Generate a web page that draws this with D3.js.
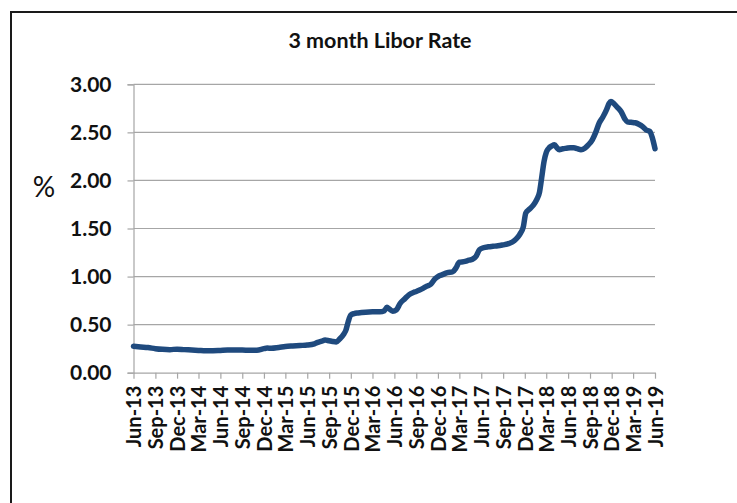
<!DOCTYPE html>
<html>
<head>
<meta charset="utf-8">
<script src="https://cdn.jsdelivr.net/npm/d3@7"></script>
<style>
  html, body { margin: 0; padding: 0; background: #fff; }
  svg { display: block; }
</style>
</head>
<body>
<svg id="chart" width="737" height="503"></svg>
<script>
// ---- data ----
const title = "3 month Libor Rate";
const yAxisLabel = "%";
const yTickValues = [0, 0.5, 1.0, 1.5, 2.0, 2.5, 3.0];
const xTickLabels = ["Jun-13","Sep-13","Dec-13","Mar-14","Jun-14","Sep-14","Dec-14","Mar-15","Jun-15","Sep-15","Dec-15","Mar-16","Jun-16","Sep-16","Dec-16","Mar-17","Jun-17","Sep-17","Dec-17","Mar-18","Jun-18","Sep-18","Dec-18","Mar-19","Jun-19"];
const dates = ["2013-06-01","2013-07-01","2013-08-01","2013-09-01","2013-10-01","2013-11-01","2013-12-01","2014-01-01","2014-02-01","2014-03-01","2014-04-01","2014-05-01","2014-06-01","2014-07-01","2014-08-01","2014-09-01","2014-10-01","2014-11-01","2014-12-01","2014-12-15","2015-01-01","2015-02-01","2015-03-01","2015-04-01","2015-05-01","2015-06-01","2015-07-01","2015-07-15","2015-08-01","2015-08-15","2015-09-01","2015-09-15","2015-10-01","2015-10-15","2015-11-01","2015-11-10","2015-11-20","2015-12-01","2015-12-15","2016-01-01","2016-02-01","2016-03-01","2016-04-01","2016-04-20","2016-05-01","2016-05-10","2016-05-25","2016-06-10","2016-06-25","2016-07-15","2016-08-01","2016-08-20","2016-09-01","2016-09-15","2016-10-01","2016-10-15","2016-11-01","2016-11-20","2016-12-01","2016-12-20","2017-01-10","2017-02-01","2017-02-15","2017-03-01","2017-03-20","2017-04-10","2017-04-25","2017-05-10","2017-05-25","2017-06-10","2017-07-01","2017-07-20","2017-08-10","2017-09-01","2017-09-20","2017-10-10","2017-10-25","2017-11-10","2017-11-25","2017-12-05","2017-12-20","2018-01-05","2018-01-20","2018-02-01","2018-02-10","2018-02-20","2018-03-01","2018-03-10","2018-03-25","2018-04-05","2018-04-15","2018-04-25","2018-05-10","2018-05-25","2018-06-10","2018-06-25","2018-07-10","2018-07-25","2018-08-10","2018-08-25","2018-09-10","2018-09-25","2018-10-10","2018-10-25","2018-11-10","2018-11-20","2018-11-28","2018-12-10","2018-12-25","2019-01-10","2019-01-25","2019-02-05","2019-02-20","2019-03-10","2019-03-25","2019-04-10","2019-04-25","2019-05-10","2019-05-20","2019-06-01"];
const rates = [0.275,0.268,0.262,0.250,0.243,0.240,0.245,0.240,0.236,0.232,0.228,0.229,0.232,0.235,0.235,0.235,0.233,0.234,0.250,0.256,0.255,0.263,0.272,0.278,0.283,0.287,0.300,0.315,0.328,0.340,0.332,0.325,0.320,0.350,0.400,0.440,0.530,0.600,0.615,0.622,0.630,0.633,0.633,0.645,0.680,0.665,0.640,0.655,0.720,0.770,0.810,0.835,0.845,0.860,0.880,0.900,0.920,0.980,1.000,1.020,1.040,1.050,1.090,1.150,1.155,1.170,1.180,1.210,1.280,1.300,1.310,1.315,1.320,1.330,1.340,1.360,1.390,1.440,1.520,1.660,1.700,1.740,1.800,1.880,2.030,2.200,2.290,2.330,2.360,2.370,2.340,2.320,2.330,2.335,2.340,2.340,2.330,2.320,2.335,2.370,2.420,2.500,2.600,2.660,2.740,2.800,2.820,2.800,2.760,2.715,2.640,2.610,2.605,2.600,2.585,2.560,2.525,2.510,2.450,2.330];

// ---- drawing ----
const parse = d3.timeParse("%Y-%m-%d");
const series = dates.map((d, i) => ({ date: parse(d), value: rates[i] }));
const tickDates = xTickLabels.map(s => d3.timeParse("%b-%y")(s));

const svg = d3.select("#chart");
const FONT = "Lato, 'Open Sans', sans-serif";

// outer chart border
svg.append("rect")
  .attr("x", 11).attr("y", 12)
  .attr("width", 760).attr("height", 520)
  .attr("fill", "none").attr("stroke", "#1a1a1a").attr("stroke-width", 2);

const x = d3.scaleTime()
  .domain([tickDates[0], tickDates[tickDates.length - 1]])
  .range([133.5, 655]);
const y = d3.scaleLinear().domain([0, 3]).range([372.7, 84.3]);

// gridlines
svg.append("g")
  .selectAll("line")
  .data(yTickValues.filter(v => v > 0))
  .join("line")
  .attr("x1", x.range()[0]).attr("x2", x.range()[1])
  .attr("y1", d => y(d)).attr("y2", d => y(d))
  .attr("stroke", "#a6a6a6").attr("stroke-width", 1.2);

// y axis
const yAxis = svg.append("g")
  .attr("transform", `translate(${x.range()[0]},0)`)
  .call(d3.axisLeft(y).tickValues(yTickValues).tickFormat(d3.format(".2f")).tickSize(6).tickPadding(16));
yAxis.select(".domain").attr("stroke", "#a6a6a6").attr("stroke-width", 1.2);
yAxis.selectAll(".tick line").attr("stroke", "#a6a6a6").attr("stroke-width", 1.2);
yAxis.selectAll(".tick text")
  .attr("font-family", FONT).attr("font-weight", "bold").attr("font-size", 21).attr("fill", "#111");

// x axis
const xAxis = svg.append("g")
  .attr("transform", `translate(0,${y(0)})`)
  .call(d3.axisBottom(x).tickValues(tickDates).tickFormat((d, i) => xTickLabels[i]).tickSize(6).tickSizeOuter(0));
xAxis.select(".domain").attr("stroke", "#a6a6a6").attr("stroke-width", 1.2);
xAxis.selectAll(".tick line").attr("stroke", "#a6a6a6").attr("stroke-width", 1.2);
xAxis.selectAll(".tick text")
  .attr("font-family", FONT).attr("font-weight", "bold").attr("font-size", 20).attr("fill", "#111")
  .attr("text-anchor", "end")
  .attr("transform", "rotate(-90)")
  .attr("x", -13).attr("y", 0).attr("dy", "0.36em");

// line
svg.append("path")
  .datum(series)
  .attr("fill", "none")
  .attr("stroke", "#1f4a7e")
  .attr("stroke-width", 5.5)
  .attr("stroke-linejoin", "round")
  .attr("stroke-linecap", "round")
  .attr("d", d3.line().x(d => x(d.date)).y(d => y(d.value)).curve(d3.curveMonotoneX));

// title
svg.append("text")
  .attr("x", 380).attr("y", 48)
  .attr("text-anchor", "middle")
  .attr("font-family", FONT).attr("font-weight", "bold").attr("font-size", 21.5).attr("fill", "#111")
  .text(title);

// y axis label
svg.append("text")
  .attr("x", 44).attr("y", 197)
  .attr("text-anchor", "middle")
  .attr("font-family", FONT).attr("font-size", 28).attr("fill", "#111")
  .text(yAxisLabel);
</script>
</body>
</html>
